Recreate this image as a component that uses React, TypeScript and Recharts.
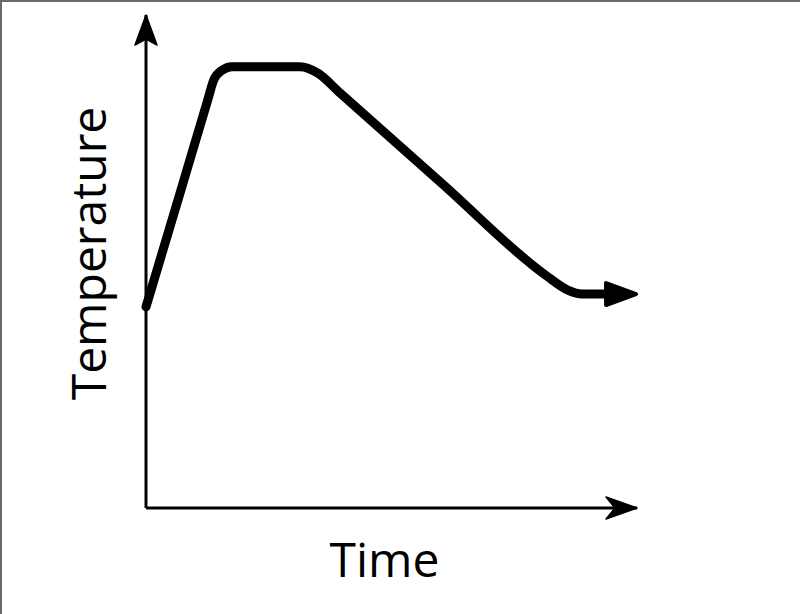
import { LineChart, Line, XAxis, YAxis, ReferenceDot } from 'recharts';

// schematic heating curve, arbitrary units (0-100 on both axes)
const times = [0, 7.0, 12.5, 13.8, 15.5, 17.5, 31.4, 35.0, 39.5, 60.3, 81.3, 85.9, 88.8, 93.7];
const temps = [40.8, 64.1, 82.5, 86.8, 88.8, 89.5, 89.5, 88.2, 84.2, 65.8, 47.3, 44.2, 43.4, 43.4];

const xLabel = 'Time';
const yLabel = 'Temperature';

const data = times.map((t, i) => ({ t, temp: temps[i] }));

const font = '"Open Sans", "DejaVu Sans", sans-serif';

function LineArrow(props: any) {
  const { cx, cy, index } = props;
  if (index !== data.length - 1) return <g key={index} />;
  return (
    <path
      key={index}
      d={`M${cx + 30} ${cy} L${cx} ${cy - 11} L${cx} ${cy + 11} Z`}
      fill="#000"
      stroke="#000"
      strokeWidth={4}
      strokeLinejoin="round"
    />
  );
}

function XArrow({ cx, cy }: any) {
  return <path d={`M${cx} ${cy} L${cx - 31} ${cy - 11} L${cx - 22} ${cy} L${cx - 31} ${cy + 11} Z`} fill="#000" stroke="#000" strokeWidth={1.5} strokeLinejoin="round" />;
}

function YArrow({ cx, cy }: any) {
  return <path d={`M${cx} ${cy} L${cx - 11} ${cy + 30} L${cx} ${cy + 24} L${cx + 11} ${cy + 30} Z`} fill="#000" stroke="#000" strokeWidth={1.5} strokeLinejoin="round" />;
}

function YTitle({ viewBox }: any) {
  const x = viewBox.x + viewBox.width - 40;
  const y = viewBox.y + viewBox.height / 2 - 8;
  return (
    <text x={x} y={y} transform={`rotate(-90 ${x} ${y})`} textAnchor="middle" fontFamily={font} fontSize={48} fill="#000">
      {yLabel}
    </text>
  );
}

function XTitle({ viewBox }: any) {
  const x = viewBox.x + viewBox.width / 2 - 7;
  const y = viewBox.y + 69;
  return (
    <text x={x} y={y} textAnchor="middle" fontFamily={font} fontSize={48} fill="#000">
      {xLabel}
    </text>
  );
}

export default function App() {
  return (
    <div style={{ position: 'absolute', left: 0, top: 0, width: 800, height: 614, background: '#fff' }}>
      <LineChart width={800} height={614} data={data} margin={{ top: 15, right: 163, left: 86, bottom: 26 }}>
        <XAxis
          type="number"
          dataKey="t"
          domain={[0, 100]}
          tick={false}
          tickLine={false}
          height={80}
          axisLine={{ stroke: '#000', strokeWidth: 3 }}
          label={{ content: XTitle }}
        />
        <YAxis
          type="number"
          domain={[0, 100]}
          tick={false}
          tickLine={false}
          width={60}
          axisLine={{ stroke: '#000', strokeWidth: 3 }}
          label={{ content: YTitle }}
        />
        <ReferenceDot x={100} y={0} ifOverflow="visible" shape={XArrow} />
        <ReferenceDot x={0} y={100} ifOverflow="visible" shape={YArrow} />
        <Line
          type="monotone"
          dataKey="temp"
          stroke="#000"
          strokeWidth={9}
          strokeLinecap="round"
          strokeLinejoin="round"
          dot={LineArrow}
          activeDot={false}
          isAnimationActive={false}
        />
      </LineChart>
      <div
        style={{
          position: 'absolute',
          left: 0,
          top: 0,
          width: 800,
          height: 614,
          borderTop: '2px solid #6b6b6b',
          borderLeft: '2px solid #6b6b6b',
          boxSizing: 'border-box',
          pointerEvents: 'none',
        }}
      />
    </div>
  );
}
